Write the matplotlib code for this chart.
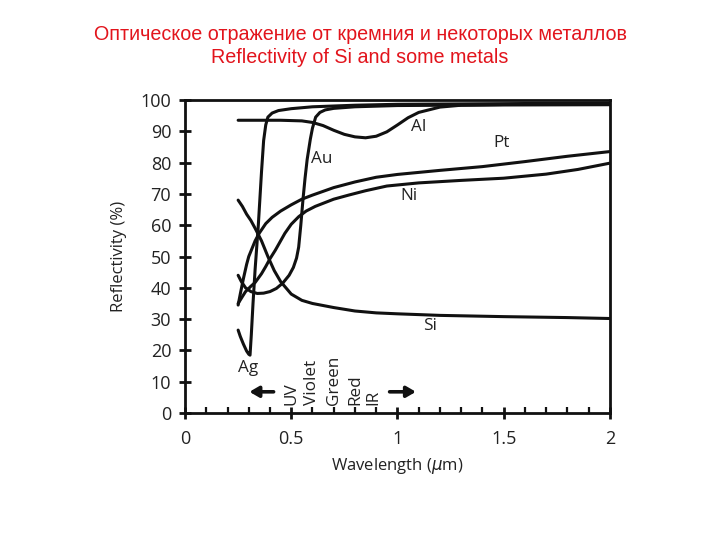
import matplotlib
matplotlib.use("Agg")
import matplotlib.pyplot as plt
from matplotlib.ticker import MultipleLocator, FuncFormatter

# ---- data (wavelength in um, reflectivity in %) ----
ag_lam = [0.25, 0.26, 0.275, 0.29, 0.30, 0.306, 0.312, 0.32, 0.33, 0.345, 0.36, 0.37,
          0.38, 0.39, 0.41, 0.44, 0.5, 0.6, 0.8, 1.0, 1.5, 2.0]
ag_r = [26.5, 24.5, 22, 19.8, 18.8, 18.5, 25, 35, 46, 60, 77, 87,
        92, 94.5, 95.8, 96.6, 97.2, 97.8, 98.3, 98.6, 98.8, 99]

au_lam = [0.25, 0.265, 0.285, 0.31, 0.34, 0.37, 0.40, 0.43, 0.46, 0.49, 0.51, 0.525,
          0.535, 0.545, 0.555, 0.565, 0.575, 0.59, 0.60, 0.615, 0.635, 0.66, 0.7, 0.8,
          1.0, 1.5, 2.0]
au_r = [44, 42, 40, 38.8, 38.2, 38.3, 38.8, 39.8, 41.5, 44, 46.5, 49.5,
        53, 60, 68, 75, 81, 87.5, 91, 94.5, 96, 96.8, 97.3, 97.8,
        98.2, 98.4, 98.5]

si_lam = [0.25, 0.27, 0.29, 0.31, 0.33, 0.36, 0.39, 0.42, 0.45, 0.5, 0.55, 0.6, 0.7,
          0.8, 0.9, 1.0, 1.2, 1.5, 1.8, 2.0]
si_r = [68, 66, 63.5, 61.5, 59, 55, 50, 45.5, 42, 38, 36, 35, 33.7,
        32.6, 32, 31.7, 31.2, 30.8, 30.5, 30.2]

pt_lam = [0.25, 0.26, 0.275, 0.29, 0.30, 0.315, 0.33, 0.35, 0.38, 0.41, 0.45, 0.5,
          0.55, 0.6, 0.7, 0.8, 0.9, 1.0, 1.2, 1.4, 1.6, 1.8, 2.0]
pt_r = [34.5, 38, 43, 47.5, 50, 52.5, 55, 57.5, 60.5, 62.5, 64.5, 66.5,
        68.3, 69.6, 72, 73.8, 75.3, 76.2, 77.5, 78.7, 80.3, 82, 83.5]

ni_lam = [0.25, 0.27, 0.285, 0.31, 0.33, 0.36, 0.38, 0.40, 0.425, 0.45, 0.47, 0.5,
          0.535, 0.57, 0.613, 0.7, 0.77, 0.85, 0.95, 1.1, 1.3, 1.5, 1.7, 1.85, 2.0]
ni_r = [35, 37.2, 38.8, 40.5, 41.7, 44.5, 46.8, 49.3, 52, 55, 57.4, 60.3,
        62.7, 64.5, 66, 68.3, 69.6, 71, 72.5, 73.5, 74.3, 75, 76.3, 77.8, 79.8]

al_lam = [0.25, 0.35, 0.45, 0.55, 0.6, 0.65, 0.7, 0.75, 0.8, 0.85, 0.9, 0.95, 1.0,
          1.05, 1.1, 1.2, 1.3, 1.5, 2.0]
al_r = [93.5, 93.5, 93.5, 93.3, 92.8, 91.8, 90.3, 89, 88.2, 87.9, 88.4, 89.8, 92,
        94.3, 96, 97.7, 98.3, 98.5, 98.5]

labels = ["Al", "Pt", "Au", "Ni", "Si", "Ag"]
label_x = [1.10, 1.49, 0.645, 1.054, 1.153, 0.296]
label_y = [91.3, 86.2, 81, 69.2, 27.9, 14.4]

band_names = ["UV", "Violet", "Green", "Red", "IR"]
band_x = [0.50, 0.60, 0.70, 0.80, 0.885]

font = "Open Sans"
txt = "#222222"
ink = "#111111"

fig = plt.figure(figsize=(7.2, 5.4), dpi=100)
fig.text(0.5, 0.915, "Оптическое отражение от кремния и некоторых металлов\nReflectivity of Si and some metals",
         ha="center", va="center", color="#e2141c", fontsize=14.2,
         family="Liberation Sans", linespacing=1.27)

ax = fig.add_axes([0.257, 0.235, 0.590, 0.580])
for lam, r in [(ag_lam, ag_r), (au_lam, au_r), (si_lam, si_r),
               (pt_lam, pt_r), (ni_lam, ni_r), (al_lam, al_r)]:
    ax.plot(lam, r, color=ink, lw=2.2, solid_capstyle="round")

for name, x, y in zip(labels, label_x, label_y):
    ax.text(x, y, name, ha="center", va="center", fontsize=12.3, family=font, color=txt)

for name, x in zip(band_names, band_x):
    ax.text(x, 2.5, name, rotation=90, ha="center", va="bottom", fontsize=12.3,
            family=font, color=txt)

arrow = dict(arrowstyle="-|>,head_length=0.55,head_width=0.32", lw=2.6, color=ink)
ax.annotate("", xy=(0.29, 6.8), xytext=(0.43, 6.8), arrowprops=arrow)
ax.annotate("", xy=(1.10, 6.8), xytext=(0.95, 6.8), arrowprops=arrow)

ax.set_xlim(0, 2)
ax.set_ylim(0, 100)
ax.xaxis.set_major_locator(MultipleLocator(0.5))
ax.xaxis.set_minor_locator(MultipleLocator(0.1))
ax.yaxis.set_major_locator(MultipleLocator(10))
ax.xaxis.set_major_formatter(FuncFormatter(lambda v, p: f"{v:g}"))
for s in ax.spines.values():
    s.set_linewidth(2.0)
    s.set_color(ink)
ax.tick_params(which="major", direction="inout", length=8, width=2.0, colors=ink,
               labelcolor=txt, labelsize=13, top=False, right=False)
ax.tick_params(axis="x", which="minor", direction="in", length=4, width=1.6, colors=ink,
               top=False)
ax.tick_params(axis="x", pad=8)
ax.tick_params(axis="y", pad=6)
for lbl in ax.get_xticklabels() + ax.get_yticklabels():
    lbl.set_family(font)

ax.set_xlabel("Wavelength ($\\mu$m)", fontsize=12, family=font, color=txt, labelpad=6)
ax.set_ylabel("Reflectivity (%)", fontsize=12, family=font, color=txt, labelpad=10)

fig.savefig("out.png", dpi=100)
